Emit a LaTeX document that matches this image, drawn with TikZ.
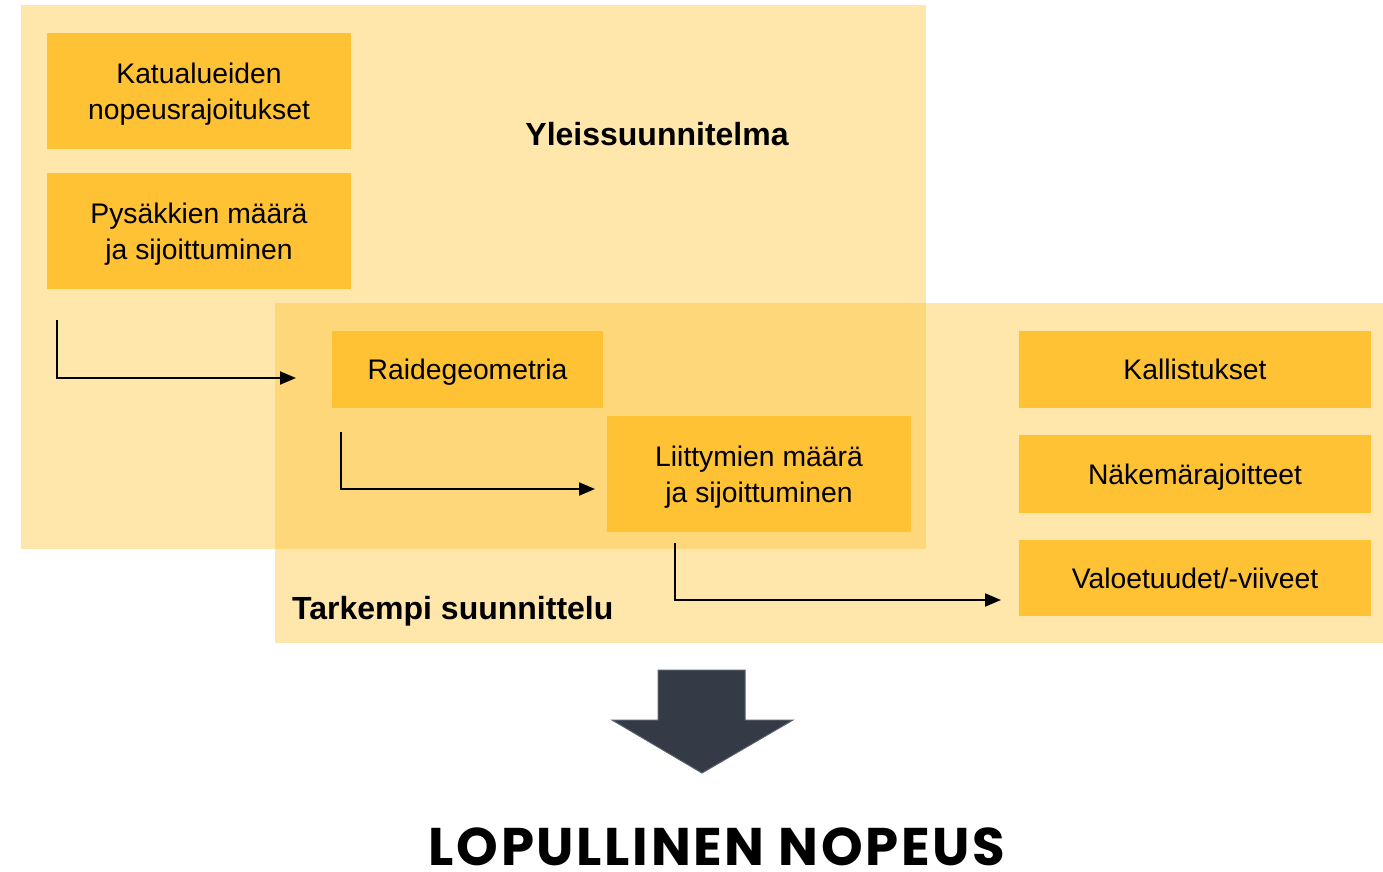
\documentclass[tikz,border=0pt]{standalone}
\usepackage{fontspec}
\setmainfont{Liberation Sans}
\newfontfamily\titlefont[LetterSpace=5]{Poppins}
\usetikzlibrary{arrows.meta}

\definecolor{phasefill}{HTML}{FEC234}
\definecolor{itemfill}{HTML}{FEC234}
\definecolor{bigarrow}{HTML}{343A46}
\definecolor{bigedge}{HTML}{59606B}

\tikzstyle{phase}=[fill={phasefill}, fill opacity=0.41, inner sep=0pt]
\tikzstyle{item}=[fill={itemfill}, align=center, inner sep=0pt, text depth=0pt,
  font=\fontsize{28.3}{36}\selectfont]
\tikzstyle{phase-label}=[font=\fontsize{32}{36}\selectfont\bfseries, inner sep=0pt]
\tikzstyle{flow}=[line width=2pt, -{Triangle[length=16pt, width=13pt]}]

\begin{document}
\begin{tikzpicture}[x=1pt, y=-1pt]
  \useasboundingbox (0,0) rectangle (1383,872);

  % planning phases
  \node (yleis) at (473.5,277) [phase, minimum width=905pt, minimum height=544pt] {};
  \node (tark) at (829,473) [phase, minimum width=1108pt, minimum height=340pt] {};
  \node (yleislabel) at (657,146) [phase-label, anchor=base] {Yleissuunnitelma};
  \node (tarklabel) at (292,619) [phase-label, anchor=base west] {Tarkempi suunnittelu};

  % factors
  \node (katu) at (199,91) [item, minimum width=304pt, minimum height=116pt]
        {Katualueiden\\nopeusrajoitukset};
  \node (pysakit) at (199,231) [item, minimum width=304pt, minimum height=116pt]
        {Pysäkkien määrä\\ja sijoittuminen};
  \node (raide) at (467.5,369.5) [item, minimum width=271pt, minimum height=77pt]
        {Raidegeometria};
  \node (liittymat) at (759,474) [item, minimum width=304pt, minimum height=116pt]
        {Liittymien määrä\\ja sijoittuminen};
  \node (kallistus) at (1195,369.5) [item, minimum width=352pt, minimum height=77pt]
        {Kallistukset};
  \node (nakema) at (1195,474) [item, minimum width=352pt, minimum height=78pt]
        {Näkemärajoitteet};
  \node (valo) at (1195,578) [item, minimum width=352pt, minimum height=76pt]
        {Valoetuudet/-viiveet};

  % flow arrows
  \coordinate (flow1s) at (57,320);
  \coordinate (flow1e) at (296,378);
  \coordinate (flow2s) at (341,432);
  \coordinate (flow2e) at (595,489);
  \coordinate (flow3s) at (675,543);
  \coordinate (flow3e) at (1001,600);
  \draw[flow] (flow1s) |- (flow1e);
  \draw[flow] (flow2s) |- (flow2e);
  \draw[flow] (flow3s) |- (flow3e);

  % result
  \draw[fill={bigarrow}, draw={bigedge}, line width=1pt, line join=miter]
    (658,670) -- (745,670) -- (745,720) -- (793,720) -- (702,773)
    -- (612,720) -- (658,720) -- cycle;
  \node (nopeus) at (717,865) [font=\titlefont\fontsize{53}{58}\selectfont\bfseries,
        inner sep=0pt, text depth=0pt, anchor=base] {LOPULLINEN NOPEUS};
\end{tikzpicture}
\end{document}
